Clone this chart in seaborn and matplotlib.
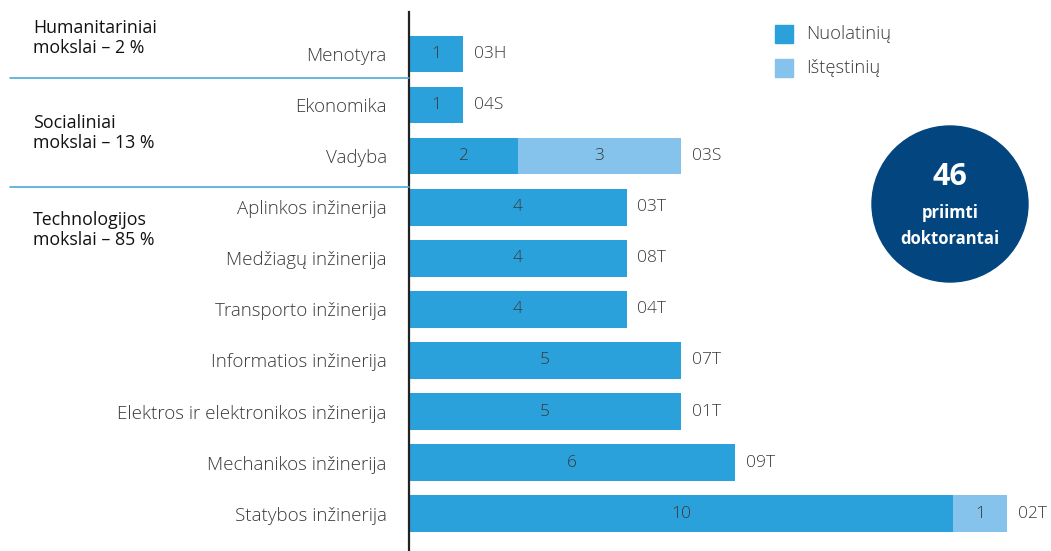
import numpy as np
import pandas as pd
import matplotlib
matplotlib.use("Agg")
import matplotlib.pyplot as plt
import seaborn as sns
from matplotlib.patches import Circle, Rectangle
from matplotlib.transforms import IdentityTransform

#-----------------------------------------------------------------
# Data
#-----------------------------------------------------------------
fields = ["Menotyra", "Ekonomika", "Vadyba", "Aplinkos inžinerija",
          "Medžiagų inžinerija", "Transporto inžinerija",
          "Informatios inžinerija", "Elektros ir elektronikos inžinerija",
          "Mechanikos inžinerija", "Statybos inžinerija"]
codes = ["03H", "04S", "03S", "03T", "08T", "04T", "07T", "01T", "09T", "02T"]
full_time = [1, 1, 2, 4, 4, 4, 5, 5, 6, 10]
part_time = [0, 0, 3, 0, 0, 0, 0, 0, 0, 1]
groups = ["Humanitariniai\nmokslai – 2 %", "Socialiniai\nmokslai – 13 %",
          "Technologijos\nmokslai – 85 %"]
total_admitted = 46

DARK = "#2ba1dc"
LIGHT = "#85c3ec"
NAVY = "#02457f"
TEXT = "#3a3a3a"

sns.set_style("white")
plt.rcParams["font.family"] = ["Open Sans", "DejaVu Sans"]

df = pd.DataFrame({"field": fields, "full": full_time, "part": part_time})
df["total"] = df["full"] + df["part"]

fig = plt.figure(figsize=(10.51, 5.51), dpi=100)
ax = fig.add_axes([409 / 1051, 0.0, 1 - 409 / 1051, (551 - 12) / 551])

# stacked bars: total in light, full-time over it
sns.barplot(data=df, y="field", x="total", color=LIGHT, width=0.72,
            saturation=1, ax=ax, orient="h", linewidth=0)
sns.barplot(data=df, y="field", x="full", color=DARK, width=0.72,
            saturation=1, ax=ax, orient="h", linewidth=0)

ax.set_xlim(0, (1051 - 409) / 54.4)
ax.set_ylim(9.73, -0.82)
ax.set_xlabel("")
ax.set_ylabel("")
ax.set_xticks([])
ax.tick_params(axis="y", length=0, pad=16, labelsize=13.5, labelcolor=TEXT)
for lbl in ax.get_yticklabels():
    lbl.set_fontweight("light")
for s in ["top", "right", "bottom"]:
    ax.spines[s].set_visible(False)
ax.spines["left"].set_color("#222222")
ax.spines["left"].set_linewidth(1.6)

for i, row in df.iterrows():
    ax.text(row["full"] / 2, i, str(row["full"]), ha="center", va="center",
            fontsize=12.5, color=TEXT, fontweight="light")
    if row["part"] > 0:
        ax.text(row["full"] + row["part"] / 2, i, str(row["part"]),
                ha="center", va="center", fontsize=12.5, color=TEXT,
                fontweight="light")
    ax.text(row["total"] + 0.2, i, codes[i], ha="left", va="center",
            fontsize=12.5, color=TEXT, fontweight="light")

# group labels and separators (figure pixel coords)
def fx(px):
    return px / 1051

def fy(py):
    return 1 - py / 551

for label, py in zip(groups, [38, 133, 230]):
    fig.text(fx(33), fy(py), label, ha="left", va="center", fontsize=12.8,
             color="#111111", linespacing=1.15)
for py in [78, 187]:
    fig.add_artist(plt.Line2D([fx(10), fx(409)], [fy(py), fy(py)],
                              color="#4ea9dd", lw=1.2))

# legend
for py, col, lab in [(34, DARK, "Nuolatinių"), (68, LIGHT, "Ištęstinių")]:
    fig.add_artist(Rectangle((fx(775), fy(py + 9)), fx(18), 18 / 551,
                             color=col, transform=fig.transFigure))
    fig.text(fx(806), fy(py), lab, ha="left", va="center", fontsize=13.2,
             color=TEXT, fontweight="light")

# circle with total
fig.add_artist(Circle((950, 551 - 204), 78, color=NAVY,
                      transform=IdentityTransform()))
fig.text(fx(950), fy(177), str(total_admitted), ha="center", va="center",
         fontsize=22, fontweight="bold", color="white")
fig.text(fx(950), fy(213), "priimti", ha="center", va="center",
         fontsize=12, fontweight="bold", color="white")
fig.text(fx(950), fy(239), "doktorantai", ha="center", va="center",
         fontsize=12, fontweight="bold", color="white")

fig.savefig("out.png", dpi=100)
